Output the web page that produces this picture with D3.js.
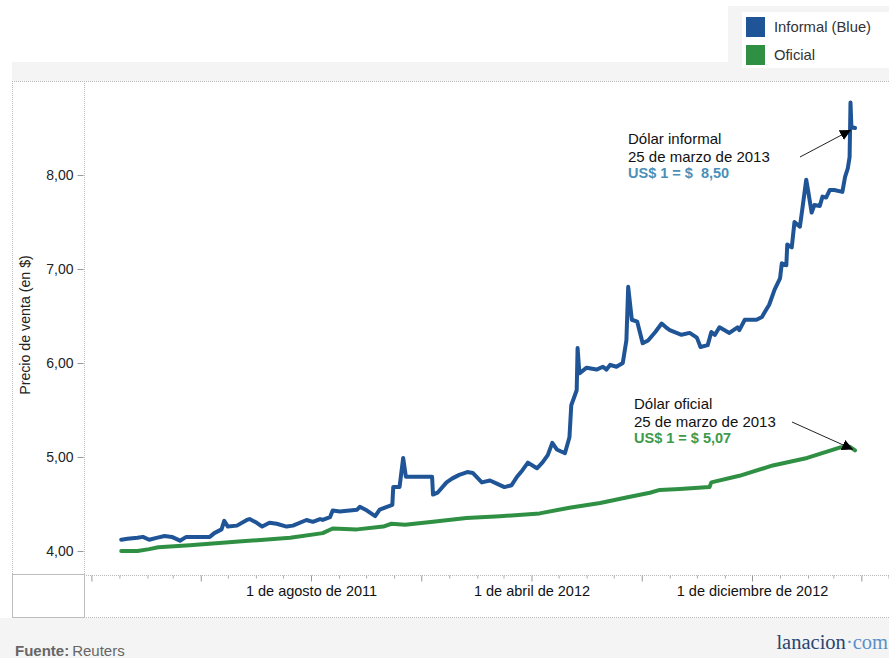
<!DOCTYPE html>
<html><head><meta charset="utf-8">
<script src="https://cdn.jsdelivr.net/npm/d3@7"></script>
<style>
body{margin:0;background:#fff;}
svg{display:block;font-family:"Liberation Sans",Arial,sans-serif;}
</style></head>
<body><svg id="c" width="889" height="658"></svg>
<script>
const informalDates = ["2011-01-03","2011-01-10","2011-01-21","2011-01-27","2011-02-03","2011-02-11","2011-02-20","2011-02-28","2011-03-09","2011-03-16","2011-04-04","2011-04-11","2011-04-16","2011-04-24","2011-04-27","2011-05-01","2011-05-11","2011-05-22","2011-05-25","2011-06-02","2011-06-08","2011-06-16","2011-06-24","2011-07-05","2011-07-12","2011-07-27","2011-08-03","2011-08-11","2011-08-14","2011-08-22","2011-08-25","2011-09-02","2011-09-21","2011-09-24","2011-10-02","2011-10-11","2011-10-16","2011-10-24","2011-10-30","2011-10-31","2011-11-07","2011-11-11","2011-11-14","2011-12-13","2011-12-14","2011-12-19","2011-12-29","2012-01-04","2012-01-12","2012-01-21","2012-01-27","2012-02-06","2012-02-15","2012-02-22","2012-03-02","2012-03-10","2012-03-16","2012-03-22","2012-03-28","2012-04-07","2012-04-13","2012-04-19","2012-04-24","2012-04-29","2012-05-08","2012-05-13","2012-05-15","2012-05-21","2012-05-22","2012-05-24","2012-06-01","2012-06-12","2012-06-19","2012-06-23","2012-06-27","2012-07-04","2012-07-11","2012-07-15","2012-07-17","2012-07-21","2012-07-27","2012-08-02","2012-08-08","2012-08-16","2012-08-23","2012-08-29","2012-09-01","2012-09-14","2012-09-23","2012-10-01","2012-10-05","2012-10-13","2012-10-17","2012-10-21","2012-10-26","2012-11-06","2012-11-15","2012-11-17","2012-11-23","2012-11-28","2012-12-06","2012-12-12","2012-12-15","2012-12-20","2012-12-26","2013-01-01","2013-01-03","2013-01-08","2013-01-09","2013-01-14","2013-01-17","2013-01-23","2013-01-26","2013-01-30","2013-02-01","2013-02-05","2013-02-08","2013-02-14","2013-02-17","2013-02-21","2013-02-25","2013-03-02","2013-03-11","2013-03-14","2013-03-17","2013-03-19","2013-03-20","2013-03-21","2013-03-25"];
const informalValues = [4.12,4.13,4.14,4.15,4.12,4.14,4.16,4.15,4.11,4.15,4.15,4.15,4.19,4.23,4.32,4.26,4.27,4.33,4.34,4.30,4.26,4.30,4.29,4.26,4.27,4.33,4.31,4.34,4.33,4.36,4.43,4.42,4.44,4.47,4.43,4.37,4.44,4.47,4.49,4.68,4.68,4.99,4.79,4.79,4.60,4.62,4.73,4.77,4.81,4.84,4.83,4.73,4.75,4.72,4.68,4.70,4.79,4.86,4.94,4.88,4.94,5.02,5.15,5.08,5.04,5.21,5.55,5.71,6.16,5.89,5.95,5.93,5.96,5.93,5.98,5.96,6.00,6.24,6.81,6.46,6.44,6.21,6.24,6.33,6.42,6.37,6.35,6.30,6.32,6.27,6.17,6.19,6.33,6.30,6.38,6.32,6.38,6.35,6.46,6.46,6.46,6.49,6.54,6.62,6.78,6.90,7.06,7.04,7.26,7.23,7.50,7.45,7.66,7.95,7.84,7.60,7.68,7.67,7.77,7.76,7.84,7.84,7.82,7.98,8.07,8.19,8.77,8.51,8.50];

const oficialDates = ["2011-01-03","2011-01-21","2011-02-03","2011-02-13","2011-03-20","2011-05-13","2011-07-09","2011-08-14","2011-08-25","2011-09-21","2011-10-20","2011-10-29","2011-11-13","2011-12-14","2012-01-20","2012-02-26","2012-04-10","2012-05-13","2012-06-16","2012-07-15","2012-08-10","2012-08-21","2012-09-12","2012-10-15","2012-10-17","2012-11-17","2012-12-24","2013-01-31","2013-03-08","2013-03-19","2013-03-25"];
const oficialValues = [4.00,4.00,4.02,4.04,4.06,4.10,4.14,4.19,4.24,4.23,4.26,4.29,4.28,4.31,4.35,4.37,4.40,4.46,4.51,4.57,4.62,4.65,4.66,4.68,4.73,4.80,4.91,4.99,5.10,5.11,5.07];

const yTicks = [4,5,6,7,8];
const xLabelDates = ["2011-08-01","2012-04-01","2012-12-01"];
const xLabelTexts = ["1 de agosto de 2011","1 de abril de 2012","1 de diciembre de 2012"];
const seriesNames = ["Informal (Blue)","Oficial"];
const seriesColors = ["#1f5597","#2f9044"];

const parse = d3.timeParse("%Y-%m-%d");
const svg = d3.select("#c");

// backgrounds
svg.append("rect").attr("x",728).attr("y",6).attr("width",161).attr("height",58).attr("fill","#f4f4f4");
svg.append("rect").attr("x",12).attr("y",62).attr("width",877).attr("height",19).attr("fill","#f4f4f4");
svg.append("rect").attr("x",0).attr("y",618).attr("width",889).attr("height",40).attr("fill","#f4f4f4");
svg.append("rect").attr("x",742).attr("y",12).attr("width",147).attr("height",56).attr("fill","#fff");

// scales
const x = d3.scaleTime().domain([parse("2011-08-01"), parse("2012-12-01")]).range([311,752]);
const y = d3.scaleLinear().domain([4,8]).range([551,175]);

// frame lines
const dot = {stroke:"#b8b8b8","stroke-dasharray":"1,1","stroke-width":1};
function dl(x1,y1,x2,y2){const l=svg.append("line").attr("x1",x1).attr("y1",y1).attr("x2",x2).attr("y2",y2);for(const k in dot)l.attr(k,dot[k]);}
dl(12,81.5,889,81.5);
dl(12.5,81,12.5,574);
dl(84.5,81,84.5,618);
dl(84,575.5,889,575.5);
dl(84,617.5,889,617.5);
svg.append("rect").attr("x",12.5).attr("y",574.5).attr("width",72).attr("height",43).attr("fill","none").attr("stroke","#bdbdbd");

// y axis
const ya = svg.append("g").attr("transform","translate(83.5,0)")
  .call(d3.axisLeft(y).tickValues(yTicks).tickSize(6).tickPadding(4).tickFormat(d=>d.toFixed(2).replace(".",",")));
ya.select(".domain").remove();
ya.selectAll("line").attr("stroke","#999");
ya.selectAll("text").attr("font-size",14).attr("fill","#222").attr("font-family","Liberation Sans, Arial");

svg.append("text").attr("transform","translate(30,325) rotate(-90)").attr("text-anchor","middle")
  .attr("font-size",14.2).attr("fill","#222").text("Precio de venta (en $)");

// x axis: minor monthly ticks, major every 4 months, labels every 8
const [d0,d1] = [x.invert(85), x.invert(889)];
const months = d3.timeMonth.range(d3.timeMonth.ceil(d0), d1);
const xa = svg.append("g").attr("transform","translate(0,575.5)");
const xaxMinor = d3.axisBottom(x).tickValues(months.filter(m=> (m.getMonth()+1)%4!==0)).tickSize(3).tickFormat("");
const xaxMajor = d3.axisBottom(x).tickValues(months.filter(m=> (m.getMonth()+1)%4===0)).tickSize(6).tickFormat("");
xa.append("g").call(xaxMinor).call(g=>g.select(".domain").remove()).selectAll("line").attr("stroke","#aaa");
xa.append("g").call(xaxMajor).call(g=>g.select(".domain").remove()).selectAll("line").attr("stroke","#999");
const xl = svg.append("g").attr("transform","translate(0,575.5)")
  .call(d3.axisBottom(x).tickValues(xLabelDates.map(parse)).tickSize(0).tickPadding(10)
     .tickFormat((d,i)=>xLabelTexts[i]));
xl.select(".domain").remove();
xl.selectAll("text").attr("font-size",14.5).attr("fill","#111").attr("font-family","Liberation Sans, Arial");

// lines
const line = d3.line().x(d=>x(d[0])).y(d=>y(d[1])).curve(d3.curveLinear);
const oficial = oficialDates.map((d,i)=>[parse(d),oficialValues[i]]);
const informal = informalDates.map((d,i)=>[parse(d),informalValues[i]]);
svg.append("path").datum(oficial).attr("d",line).attr("fill","none").attr("stroke",seriesColors[1])
  .attr("stroke-width",4).attr("stroke-linejoin","round").attr("stroke-linecap","round");
svg.append("path").datum(informal).attr("d",line).attr("fill","none").attr("stroke",seriesColors[0])
  .attr("stroke-width",4).attr("stroke-linejoin","round").attr("stroke-linecap","round");

// legend
seriesNames.forEach((n,i)=>{
  svg.append("rect").attr("x",746).attr("y",17+i*28).attr("width",19).attr("height",20).attr("fill",seriesColors[i]);
  svg.append("text").attr("x",774).attr("y",27+i*28).attr("dy","0.35em").attr("font-size",14.8).attr("fill","#333").text(n);
});

// arrows
svg.append("defs").append("marker").attr("id","ah").attr("viewBox","0 0 10 10").attr("refX",10).attr("refY",5)
  .attr("markerWidth",11).attr("markerHeight",11).attr("markerUnits","userSpaceOnUse").attr("orient","auto")
  .append("path").attr("d","M0,0L10,5L0,10z").attr("fill","#000");
const lastI = informal[informal.length-1], lastO = oficial[oficial.length-1];
svg.append("line").attr("x1",800).attr("y1",157).attr("x2",x(lastI[0])-4).attr("y2",y(lastI[1])+2)
  .attr("stroke","#222").attr("stroke-width",1).attr("marker-end","url(#ah)");
svg.append("line").attr("x1",792).attr("y1",422).attr("x2",x(lastO[0])-2).attr("y2",y(lastO[1])-1)
  .attr("stroke","#222").attr("stroke-width",1).attr("marker-end","url(#ah)");

// annotations
function ann(x0,y0,lines,valText,col){
  const t = svg.append("text").attr("x",x0).attr("y",y0).attr("font-size",15);
  lines.forEach((l,i)=>t.append("tspan").attr("x",x0).attr("dy",i?17.5:0).attr("fill","#111").text(l));
  t.append("tspan").attr("x",x0).attr("dy",16).attr("fill",col).attr("font-weight","bold").attr("font-size",14.5).text(valText);
}
ann(628,144,["Dólar informal","25 de marzo de 2013"],"US$ 1 = $\u00a0 "+lastI[1].toFixed(2).replace(".",","),"#4a90b8");
ann(634,409,["Dólar oficial","25 de marzo de 2013"],"US$ 1 = $ "+lastO[1].toFixed(2).replace(".",","),"#3d9a4a");

// footer
const f = svg.append("text").attr("x",15).attr("y",656).attr("font-size",15).attr("fill","#666");
f.append("tspan").attr("font-weight","bold").text("Fuente:");
f.append("tspan").attr("dx",3).text("Reuters");
const lg = svg.append("text").attr("x",888).attr("y",649).attr("text-anchor","end")
  .attr("font-family","Liberation Serif, Times New Roman, serif").attr("font-size",20.5);
lg.append("tspan").attr("fill","#2a4470").text("lanacion");
lg.append("tspan").attr("fill","#5b8fc9").text("·com");
</script></body></html>
